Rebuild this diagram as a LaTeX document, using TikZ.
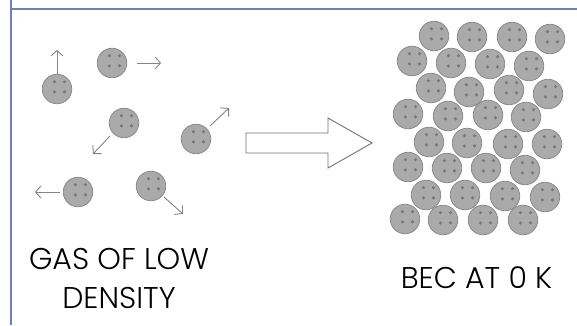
\documentclass[tikz,border=0pt]{standalone}
\usepackage{fontspec}
\setmainfont{Poppins}[UprightFont=* Light]
\usetikzlibrary{arrows.meta,calc}
\definecolor{framecol}{HTML}{6B80B3}
\definecolor{partfill}{HTML}{AAAAAA}
\definecolor{partline}{HTML}{8A8A8A}
\definecolor{dotcol}{HTML}{777777}
\definecolor{arrowcol}{HTML}{858585}
\definecolor{blockcol}{HTML}{747474}
\tikzset{
  particle/.style={circle, minimum size=29.5pt, inner sep=0pt, fill=partfill,
    draw=partline, line width=0.8pt,
    path picture={
      \foreach \dx/\dy in {-2.6/-7.3, 7.5/-7.3, -2.6/2.9, 7.5/2.9}
        \fill[dotcol] ($(path picture bounding box.center)+(\dx,\dy)$) circle (1.7pt);
    }},
  motion/.style={draw=arrowcol, line width=0.9pt,
    -{Straight Barb[length=5.5pt,width=12pt,line width=0.9pt]}},
  label/.style={font=\fontsize{30}{39}\selectfont, align=center, inner sep=0pt, text=black}
}
\begin{document}
\begin{tikzpicture}[x=1pt, y=-1pt]
  \useasboundingbox (0,0) rectangle (577,325);
  \fill[white] (0,0) rectangle (577,325);

  % frame edges
  \draw[framecol, line width=1.5pt] (11,0) -- (11,325);
  \draw[framecol, line width=1.5pt] (11,9) -- (577,9);

  % low-density gas with velocity arrows
  \node[particle] (g1) at (57,89) {};
  \node[particle] (g2) at (112,63) {};
  \node[particle] (g3) at (124,123) {};
  \node[particle] (g4) at (196,139) {};
  \node[particle] (g5) at (78,192) {};
  \node[particle] (g6) at (151,186) {};

  \draw[motion] (g1.north) -- +(0,-24);
  \draw[motion] ($(g2.east)+(10,0)$) -- +(24,0);
  \draw[motion] ($(g3.center)+(-14,13)$) -- +(-17,18);
  \draw[motion] ($(g4.center)+(14,-13)$) -- +(19,-18);
  \draw[motion] ($(g5.west)+(-3,0)$) -- +(-25,0);
  \draw[motion] ($(g6.center)+(13,11)$) -- +(19,17);

  % transition arrow (outlined block arrow)
  \draw[blockcol, fill=white, line width=0.9pt, line join=miter]
    (246,133) -- (328,133) -- (328,118) -- (372,143)
    -- (328,168) -- (328,153) -- (246,153) -- cycle;

  % condensate: densely packed particles
  \foreach \px/\py [count=\i] in {
      434/36, 472/37, 512/37, 550/39,
      412/61, 451/63, 490/64, 529/66,
      431/88, 469/92, 509/90, 548/94,
      408/114, 448/116, 488/115, 526/117,
      429/142, 467/143, 508/144, 547/144,
      408/167, 447/168, 486/168, 525/170,
      426/195, 465/195, 505/196, 545/197,
      405/219, 443/220, 483/220, 523/220}
    \node[particle] (b\i) at (\px,\py) {};

  % captions
  \node[label] (gaslabel) at (119,278) {GAS OF LOW\\DENSITY};
  \node[label] (beclabel) at (476.5,278) {BEC AT 0 K};
\end{tikzpicture}
\end{document}
